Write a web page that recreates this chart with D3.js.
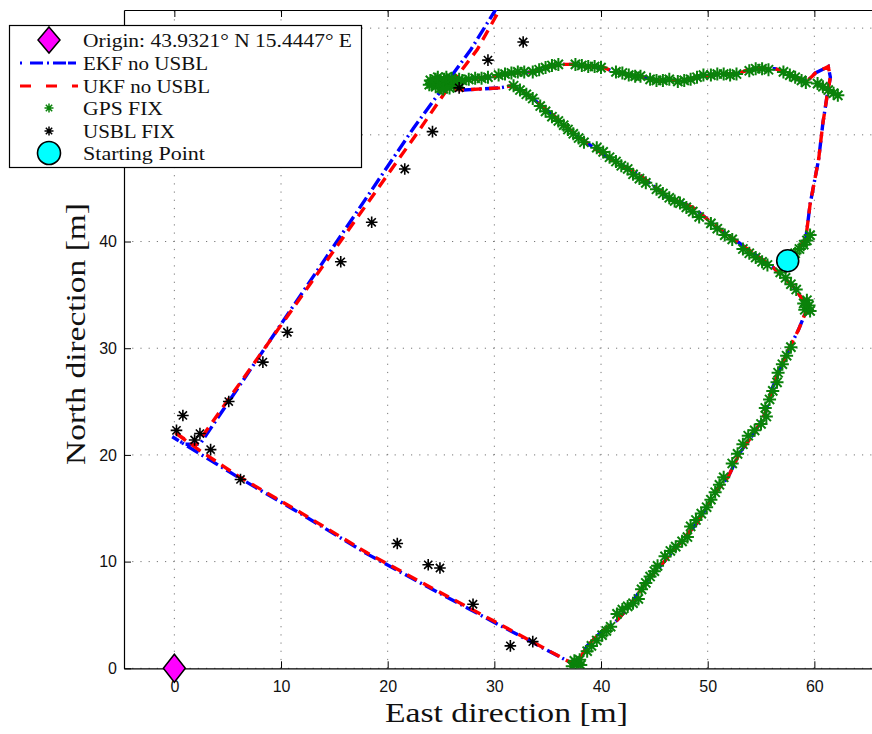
<!DOCTYPE html>
<html>
<head>
<meta charset="utf-8">
<script src="https://cdn.jsdelivr.net/npm/d3@7"></script>
<style>
html,body{margin:0;padding:0;background:#fff;}
svg{display:block;}
</style>
</head>
<body>
<svg id="chart" width="872" height="734"></svg>
<script>
// ---------- DATA ----------
const xTicks = [0, 10, 20, 30, 40, 50, 60];
const yTicks = [0, 10, 20, 30, 40, 50, 60];
const yTickLabels = ["0", "10", "20", "30", "40", "", ""]; // 50 and 60 are hidden behind the legend

const origin = [0, 0];
const startPoint = [57.5, 38.2];

// common surface part of the estimated trajectory (EKF & UKF coincide here)
const surfaceTrack = [
[57.5,38.2],[58.2,38.9],[59.2,40.3],[59.6,43.5],[60.4,47.7],[60.8,51.1],[61.2,53.7],[61.5,55.4],[61.3,56.4],
[60.1,55.8],[59.3,55.0],[58.3,55.4],[57.2,55.9],[56.3,56.2],[55.0,56.2],[53.8,56.1],[52.8,55.7],[51.5,55.7],
[50.2,55.6],[49.0,55.4],[47.8,55.1],[46.5,55.1],[45.2,55.1],[44.5,55.3],[43.5,55.5],[42.0,55.8],[41.2,55.9],
[40.3,56.3],[38.8,56.4],[37.3,56.6],[36.5,56.6],[35.5,56.5],[34.5,56.2],[33.5,55.9],[32.0,55.8],[30.5,55.6],
[29.5,55.4],[28.0,55.3],[26.5,55.0],[25.2,54.7],[26.0,54.3],[27.1,54.2],[30.5,54.4],[31.6,54.6],[32.4,54.2],
[33.6,53.4],[35.2,52.1],[37.4,50.2],[39.3,48.8],[40.6,47.9],[43.4,46.4],[46.2,44.2],[48.6,43.2],[51.2,41.1],
[54.3,38.9],[56.1,37.6],[58.0,35.8],[59.4,33.9],[58.5,31.7],[57.7,30.1],[57.0,28.6],[56.0,26.1],[55.4,23.9],
[54.4,22.1],[53.0,20.2],[51.9,17.9],[50.9,16.7],[49.9,15.1],[49.0,13.6],[47.1,11.4],[45.5,9.5],[44.4,8.3],
[42.4,5.5],[41.5,4.5],[39.9,3.3],[38.7,2.1],[37.8,0.5],[37.6,0.3]
];

// dive part without USBL
const ekfDive = [
[30.0,4.3],[24.0,7.5],[18.1,10.7],[12.0,14.4],[6.0,17.9],[2.4,20.1],[-0.2,21.7],[1.0,21.0],[2.4,21.0],
[22.4,50.6],[27.8,58.0],[30.1,61.7],[30.6,63.5]
];
const ukfDive = [
[30.0,4.4],[24.0,7.6],[18.1,10.8],[12.0,14.5],[6.0,18.0],[2.4,20.4],[-0.1,22.2],[0.8,21.6],[1.95,20.8],
[23.0,50.5],[25.6,54.3],[28.4,58.0],[30.2,61.2],[31.2,63.5]
];

const gpsFix = [
[58.2,38.9],[58.6,39.3],[59.0,39.7],[59.3,40.1],[59.6,40.6],
[60.3,54.8],[60.8,54.5],[61.3,54.2],[61.8,53.9],[62.2,53.7],
[57.1,55.9],[57.7,55.6],[58.2,55.4],[58.8,55.1],[59.2,54.9],
[53.9,56.0],[54.5,56.2],[55.1,56.2],[55.7,56.1],
[50.3,55.6],[50.9,55.7],[51.5,55.7],[52.1,55.6],[52.7,55.7],
[47.2,55.0],[47.8,55.1],[48.4,55.2],[49.0,55.4],[49.6,55.6],
[44.6,55.2],[45.2,55.1],[45.8,55.1],[46.4,55.2],
[41.4,55.9],[42.0,55.8],[42.6,55.6],[43.2,55.5],[43.7,55.5],
[37.6,56.6],[38.2,56.5],[38.8,56.4],[39.4,56.4],[40.0,56.3],
[33.6,55.9],[34.2,56.1],[34.8,56.3],[35.4,56.5],[36.0,56.6],
[30.4,55.6],[31.0,55.7],[31.6,55.8],[32.2,55.9],[32.8,55.9],
[27.0,55.1],[27.6,55.2],[28.2,55.3],[28.8,55.3],[29.4,55.4],
[24.1,54.8],[24.5,55.2],[24.5,54.5],[24.9,55.0],[25.0,54.4],[25.3,55.2],[25.4,54.7],[25.8,54.9],
[25.8,54.4],[26.2,55.0],[26.6,54.8],[24.3,54.9],[24.8,54.7],[25.6,55.1],[26.2,54.6],[23.9,54.7],
[24.7,55.4],[25.5,55.4],[26.0,55.3],[25.2,54.3],[26.7,55.2],[24.0,55.1],
[31.8,54.6],[32.4,54.2],[33.0,53.8],[33.6,53.4],
[34.3,52.7],[34.8,52.2],[35.4,51.7],[36.0,51.3],[36.5,50.9],
[36.9,50.5],[37.4,50.1],[37.9,49.7],[38.4,49.3],
[39.6,48.8],[40.2,48.4],[40.8,47.9],[41.4,47.5],[41.9,47.1],
[42.5,46.8],[43.0,46.3],[43.6,45.9],[44.2,45.5],
[45.2,44.9],[45.8,44.5],[46.4,44.1],[46.9,43.8],
[47.4,43.6],[48.0,43.2],[48.6,42.8],[49.2,42.3],
[50.3,41.7],[50.9,41.2],[51.6,40.6],[52.3,40.2],
[53.3,39.3],[53.9,38.9],[54.5,38.5],[55.1,38.1],[55.6,37.8],
[56.8,37.1],[57.3,36.6],[57.8,36.0],[58.3,35.5],
[59.1,33.6],[59.5,34.0],[59.3,34.5],[59.6,33.5],[59.0,34.2],
[56.6,27.7],[57.0,28.5],[57.4,29.3],[57.8,30.1],
[55.4,24.4],[55.8,25.2],[56.1,26.0],[56.5,26.8],
[53.8,21.8],[54.4,22.3],[55.0,22.9],[55.5,23.6],
[52.3,19.2],[52.8,20.1],[53.3,21.0],
[50.3,15.8],[50.7,16.5],[51.1,17.2],[51.5,17.9],
[48.4,13.3],[48.9,13.9],[49.4,14.5],[49.9,15.1],
[46.0,10.5],[46.5,11.0],[47.0,11.4],[47.6,11.9],[48.1,12.3],
[43.8,7.4],[44.2,8.0],[44.6,8.6],[45.0,9.1],[45.3,9.6],
[41.5,5.1],[42.0,5.5],[42.5,5.8],[43.0,6.1],[43.5,6.5],
[38.7,1.6],[39.1,2.1],[39.6,2.6],[40.1,3.1],[40.5,3.5],[40.9,3.9],
[37.3,0.2],[37.7,0.5],[38.1,0.3],[37.5,0.7],[38.0,0.8]
];

const usblFix = [
[0.2,22.3],[0.8,23.7],[1.9,21.4],[2.4,22.0],[3.4,20.5],[5.1,25.0],[6.2,17.7],[8.3,28.7],[10.6,31.5],
[15.6,38.1],[18.5,41.8],[21.6,46.8],[24.2,50.3],[26.7,54.4],[29.4,57.0],[32.7,58.7],
[20.9,11.7],[23.8,9.7],[24.9,9.4],[28.0,6.0],[31.5,2.1],[33.6,2.5]
];

const legendLabels = ["Origin: 43.9321\u00B0 N 15.4447\u00B0 E", "EKF no USBL", "UKF no USBL", "GPS FIX", "USBL FIX", "Starting Point"];
const xLabel = "East direction [m]";
const yLabel = "North direction [m]";

// ---------- CHART ----------
const svg = d3.select("#chart");
const L = 124, T = 10, B = 668.3;
const x = d3.scaleLinear().domain([-4.72, 68]).range([L, 899.7]);
const y = d3.scaleLinear().domain([0, 61.7]).range([B, T]);
const R = x(68);

svg.append("defs").append("clipPath").attr("id", "clip")
  .append("rect").attr("x", L).attr("y", T).attr("width", R - L).attr("height", B - T);

// grid
const grid = svg.append("g").attr("stroke", "#777").attr("stroke-width", 1).attr("stroke-dasharray", "1.2,7");
xTicks.forEach(t => grid.append("line").attr("x1", x(t)).attr("x2", x(t)).attr("y1", B).attr("y2", T));
yTicks.forEach(t => grid.append("line").attr("y1", y(t)).attr("y2", y(t)).attr("x1", L).attr("x2", R));

// axes (MATLAB-style inward ticks)
const fontTick = "'Liberation Sans', Arial, sans-serif";
const axB = svg.append("g").attr("transform", `translate(0,${B})`)
  .call(d3.axisBottom(x).tickValues(xTicks).tickSizeInner(-7).tickSizeOuter(0).tickPadding(12));
const axT = svg.append("g").attr("transform", `translate(0,${T})`)
  .call(d3.axisTop(x).tickValues(xTicks).tickSizeInner(-7).tickSizeOuter(0).tickFormat(""));
const axL = svg.append("g").attr("transform", `translate(${L},0)`)
  .call(d3.axisLeft(y).tickValues(yTicks).tickSizeInner(-7).tickSizeOuter(0).tickPadding(7)
    .tickFormat((d, i) => yTickLabels[i]));
[axB, axT, axL].forEach(a => {
  a.select(".domain").attr("stroke", "#000").attr("stroke-width", 1.2);
  a.selectAll(".tick line").attr("stroke", "#000").attr("stroke-width", 1);
  a.selectAll("text").attr("font-family", fontTick).attr("font-size", 16).attr("fill", "#111");
});
axL.selectAll(".tick text").filter(function () { return this.textContent === ""; }).remove();

const plot = svg.append("g").attr("clip-path", "url(#clip)");
const line = d3.line().x(d => x(d[0])).y(d => y(d[1]));

plot.append("path").datum(surfaceTrack.concat(ekfDive)).attr("d", line)
  .attr("fill", "none").attr("stroke", "#0000ff").attr("stroke-width", 3.4)
  .attr("stroke-dasharray", "13,4,2,4");
plot.append("path").datum(surfaceTrack.concat(ukfDive)).attr("d", line)
  .attr("fill", "none").attr("stroke", "#ff0000").attr("stroke-width", 3.4)
  .attr("stroke-dasharray", "11,7");

function star(r) {
  const a = r * 0.7071;
  return `M${-r},0L${r},0M0,${-r}L0,${r}M${-a},${-a}L${a},${a}M${-a},${a}L${a},${-a}`;
}
plot.append("g").selectAll("path").data(gpsFix).join("path")
  .attr("transform", d => `translate(${x(d[0])},${y(d[1])})`)
  .attr("d", star(6.5)).attr("stroke", "#0a820a").attr("stroke-width", 2).attr("fill", "none");
plot.append("g").selectAll("path").data(usblFix).join("path")
  .attr("transform", d => `translate(${x(d[0])},${y(d[1])})`)
  .attr("d", star(5.8)).attr("stroke", "#000").attr("stroke-width", 1.6).attr("fill", "none");

function diamond(w, h) { return `M0,${-h}L${w},0L0,${h}L${-w},0Z`; }
svg.append("path").attr("transform", `translate(${x(origin[0])},${y(origin[1])})`)
  .attr("d", diamond(11, 14)).attr("fill", "#ff00ff").attr("stroke", "#000").attr("stroke-width", 1.5);
svg.append("circle").attr("cx", x(startPoint[0])).attr("cy", y(startPoint[1])).attr("r", 11)
  .attr("fill", "#00ffff").attr("stroke", "#000").attr("stroke-width", 1.6);

// axis labels
const serif = "'Liberation Serif', 'Times New Roman', serif";
svg.append("text").attr("x", 385).attr("y", 722).attr("font-family", serif).attr("font-size", 28)
  .attr("textLength", 243).attr("lengthAdjust", "spacingAndGlyphs").attr("fill", "#111").text(xLabel);
svg.append("text").attr("transform", "translate(85,465) rotate(-90)").attr("font-family", serif).attr("font-size", 28)
  .attr("textLength", 262).attr("lengthAdjust", "spacingAndGlyphs").attr("fill", "#111").text(yLabel);

// legend
const lg = svg.append("g");
lg.append("rect").attr("x", 9.5).attr("y", 25.5).attr("width", 352).attr("height", 142)
  .attr("fill", "#fff").attr("stroke", "#000").attr("stroke-width", 1.2);
const rowsY = [40, 63, 86, 108, 131, 153];
const textW = [269, 125, 127, 80, 92, 122];
legendLabels.forEach((s, i) => {
  lg.append("text").attr("x", 83).attr("y", rowsY[i] + 6.5).attr("font-family", serif).attr("font-size", 19)
    .attr("textLength", textW[i]).attr("lengthAdjust", "spacingAndGlyphs").attr("fill", "#111").text(s);
});
lg.append("path").attr("transform", `translate(49,${rowsY[0]})`).attr("d", diamond(11, 13))
  .attr("fill", "#ff00ff").attr("stroke", "#000").attr("stroke-width", 1.5);
lg.append("line").attr("x1", 20).attr("x2", 78).attr("y1", rowsY[1]).attr("y2", rowsY[1])
  .attr("stroke", "#0000ff").attr("stroke-width", 3).attr("stroke-dasharray", "2,8,13,4,2,4,13");
lg.append("line").attr("x1", 20).attr("x2", 78).attr("y1", rowsY[2]).attr("y2", rowsY[2])
  .attr("stroke", "#ff0000").attr("stroke-width", 3).attr("stroke-dasharray", "11,15");
lg.append("path").attr("transform", `translate(49,${rowsY[3]})`).attr("d", star(4.5))
  .attr("stroke", "#0a820a").attr("stroke-width", 1.5).attr("fill", "none");
lg.append("path").attr("transform", `translate(49,${rowsY[4]})`).attr("d", star(4.5))
  .attr("stroke", "#000").attr("stroke-width", 1.5).attr("fill", "none");
lg.append("circle").attr("cx", 49).attr("cy", rowsY[5]).attr("r", 11.5)
  .attr("fill", "#00ffff").attr("stroke", "#000").attr("stroke-width", 1.6);
</script>
</body>
</html>
